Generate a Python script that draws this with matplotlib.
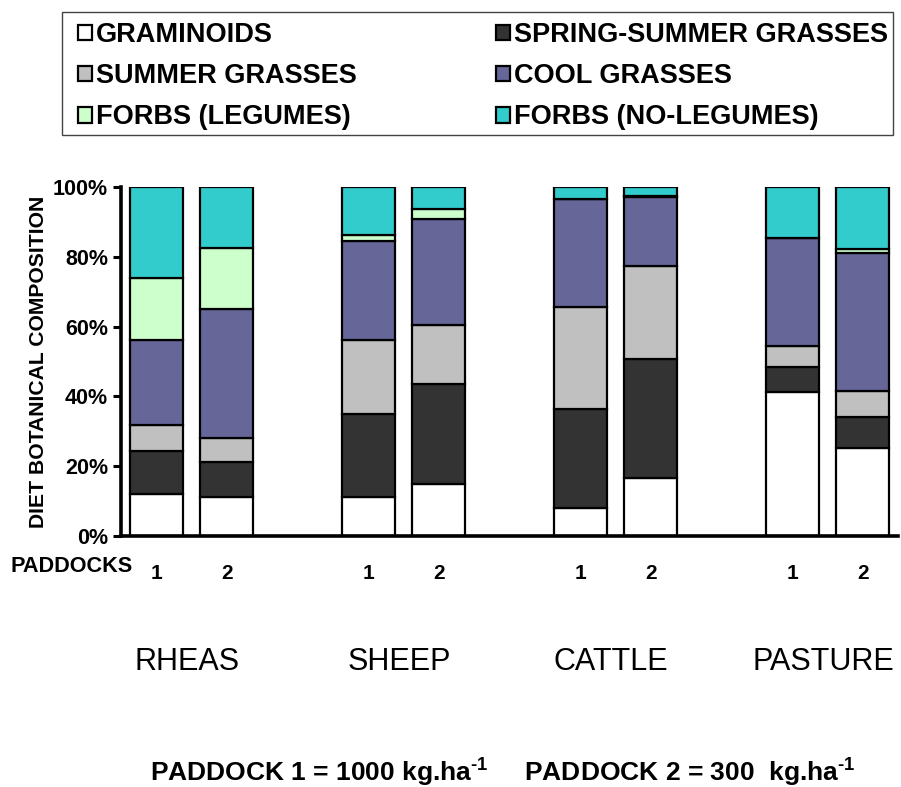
import matplotlib
matplotlib.use("Agg")
import matplotlib.pyplot as plt
from matplotlib.patches import Rectangle
import numpy as np

plt.rcParams["font.family"] = ["Liberation Sans", "DejaVu Sans"]
plt.rcParams["mathtext.fontset"] = "custom"
plt.rcParams["mathtext.rm"] = "Liberation Sans:bold"
plt.rcParams["mathtext.bf"] = "Liberation Sans:bold"

# ── Data (percent of diet) ──────────────────────────────────────────
groups   = ["RHEAS", "SHEEP", "CATTLE", "PASTURE"]
paddocks = ["1", "2"]

categories = [
    "GRAMINOIDS", "SPRING-SUMMER GRASSES", "SUMMER GRASSES",
    "COOL GRASSES", "FORBS (LEGUMES)", "FORBS (NO-LEGUMES)",
]
colors = ["#ffffff", "#333333", "#c0c0c0", "#666699", "#ccffcc", "#33cccc"]

# order of bars: RHEAS 1, RHEAS 2, SHEEP 1, SHEEP 2, CATTLE 1, CATTLE 2, PASTURE 1, PASTURE 2
graminoids    = [12.0, 11.1, 11.1, 14.8,  7.9, 16.5, 41.1, 25.1]
spring_summer = [12.4, 10.0, 23.9, 28.8, 28.4, 34.1,  7.4,  9.1]
summer        = [ 7.4,  7.0, 21.0, 16.7, 29.4, 26.8,  5.9,  7.2]
cool          = [24.4, 37.0, 28.6, 30.4, 30.8, 19.6, 31.1, 39.6]
forbs_leg     = [17.6, 17.4,  1.6,  3.0,  0.0,  0.4,  0.0,  1.2]
forbs_noleg   = [26.2, 17.5, 13.8,  6.3,  3.5,  2.6, 14.5, 17.8]

series = [graminoids, spring_summer, summer, cool, forbs_leg, forbs_noleg]

# ── Figure ───────────────────────────────────────────────────────────
W, H = 901, 787
fig = plt.figure(figsize=(W / 100, H / 100), dpi=100)
ax = fig.add_axes([0.134, 0.319, 0.863, 0.4435])

x = np.array([0, 1, 3, 4, 6, 7, 9, 10], dtype=float)
bottom = np.zeros(len(x))
handles = []
for name, vals, col in zip(categories, series, colors):
    vals = np.array(vals)
    b = ax.bar(x, vals, width=0.75, bottom=bottom, color=col,
               edgecolor="black", linewidth=1.6, label=name)
    handles.append(b)
    bottom += vals

ax.set_xlim(-0.5, 10.5)
ax.set_ylim(0, 100)
ax.set_yticks([0, 20, 40, 60, 80, 100])
ax.set_yticklabels([f"{v}%" for v in range(0, 101, 20)],
                   fontsize=15.5, fontweight="bold")
ax.tick_params(axis="y", direction="out", length=6, width=2.2, pad=3)

ax.set_xticks(x)
ax.set_xticklabels(paddocks * len(groups), fontsize=15, fontweight="bold")
ax.tick_params(axis="x", length=0, pad=20)

for s in ["top", "right"]:
    ax.spines[s].set_visible(False)
for s in ["left", "bottom"]:
    ax.spines[s].set_linewidth(2.6)

ax.set_ylabel("DIET BOTANICAL COMPOSITION", fontsize=15.2,
              fontweight="bold", labelpad=4)

fig.text(10 / W, 1 - 566 / H, "PADDOCKS", fontsize=15.6, fontweight="bold",
         ha="left", va="center")

# group names under each pair of bars
for i, g in enumerate(groups):
    cx = (x[2 * i] + x[2 * i + 1]) / 2
    ax.text(cx - 0.06, -0.36, g, transform=ax.get_xaxis_transform(),
            ha="center", va="center", fontsize=22)

fig.text(0.558, 1 - 772 / H,
         r"PADDOCK 1 = 1000 kg.ha$^{\text{-1}}$     PADDOCK 2 = 300  kg.ha$^{\text{-1}}$",
         ha="center", va="center", fontsize=19, fontweight="bold")

# legend: row-major order as in the original (matplotlib fills by column)
order = [0, 2, 4, 1, 3, 5]
leg = fig.legend(handles=[handles[i] for i in order],
                 labels=[categories[i] for i in order], ncol=2,
                 loc="upper left", bbox_to_anchor=(78 / W, 1 - 22 / H),
                 frameon=False, prop={"size": 19.5, "weight": "bold"},
                 handlelength=0.52, handleheight=0.52, handletextpad=0.15,
                 columnspacing=5.13, labelspacing=0.56, borderpad=0,
                 borderaxespad=0)
fig.patches.append(Rectangle((62 / W, 1 - 135 / H), (893 - 62) / W, 123 / H,
                             transform=fig.transFigure, fill=False,
                             edgecolor="#444444", linewidth=1.0))

fig.savefig("out.png", dpi=100)
